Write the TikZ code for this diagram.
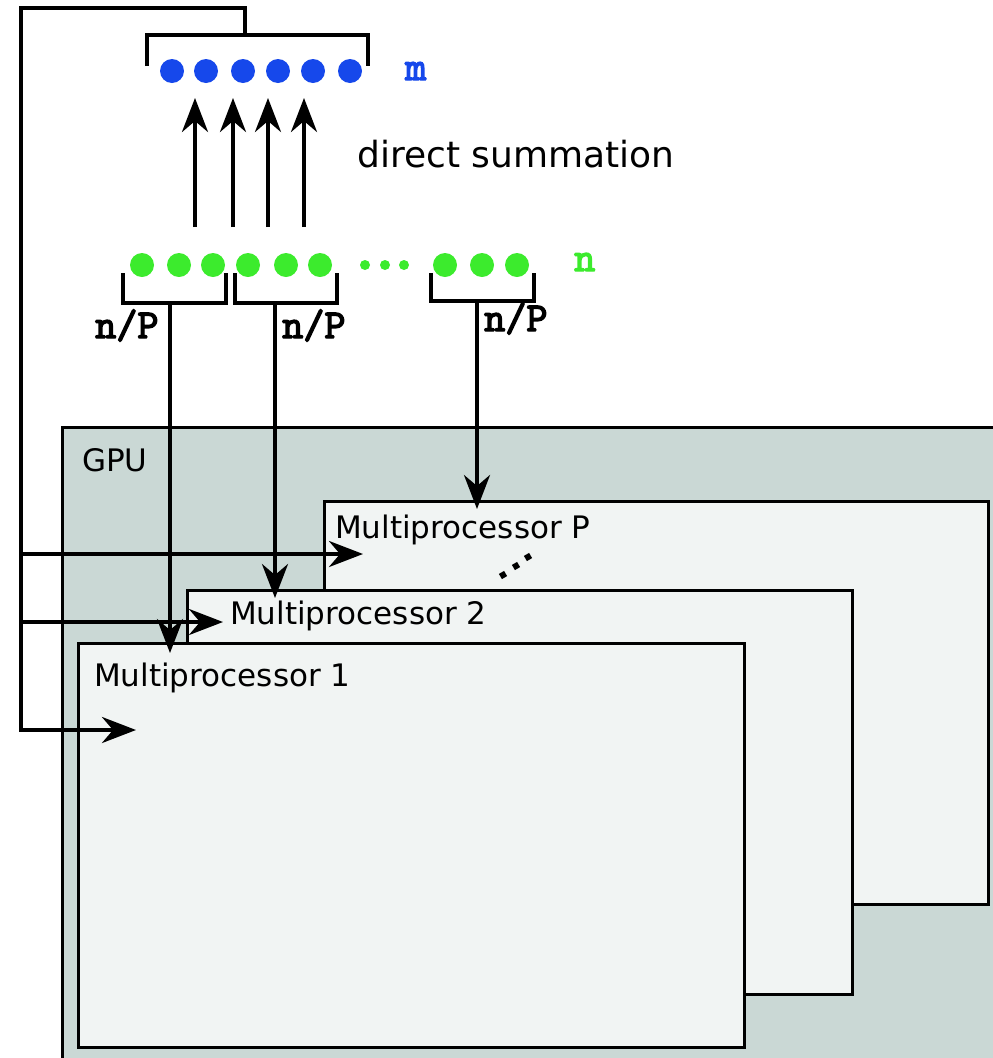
\documentclass[tikz,border=0pt]{standalone}
\usepackage{fontspec}
\setmainfont{DejaVu Sans}
\newfontfamily\monob[FakeBold=3.5]{Latin Modern Mono}
\usetikzlibrary{arrows.meta}
\definecolor{gpufill}{RGB}{202,216,213}
\definecolor{mpfill}{RGB}{241,244,243}
\definecolor{dotblue}{RGB}{22,72,235}
\definecolor{dotgreen}{RGB}{60,235,45}
\begin{document}
\begin{tikzpicture}[x=1pt,y=-1pt,
 wire/.style={line width=4pt, line join=miter},
 arr/.style={wire,-{Stealth[length=34pt,width=26pt,inset=11pt]}},
 box/.style={draw=black, line width=2.5pt, fill=mpfill, rectangle, inner sep=0pt, anchor=north west},
 bdot/.style={circle, fill=dotblue, minimum size=24pt, inner sep=0pt},
 gdot/.style={circle, fill=dotgreen, minimum size=24pt, inner sep=0pt},
 sdot/.style={circle, fill=dotgreen, minimum size=10pt, inner sep=0pt},
 tdot/.style={rectangle, fill=black, minimum size=6pt, inner sep=0pt, rotate=30},
 lbl/.style={anchor=base west, inner sep=0pt, font=\fontsize{31}{37}\selectfont},
 mono/.style={anchor=base west, inner sep=0pt, font=\monob\fontsize{41}{44}\selectfont},
]
\useasboundingbox (0,0) rectangle (993,1058);
\clip (0,0) rectangle (993,1058);
% GPU and multiprocessors
\node[box, fill=gpufill, minimum width=960pt, minimum height=660pt] (gpu) at (61,426) {};
\node[lbl] (gpulbl) at (82,471) {GPU};
\node[box, minimum width=664pt, minimum height=403pt] (mpP) at (323,500) {};
\node[box, minimum width=665pt, minimum height=404pt] (mp2) at (186,589) {};
\node[box, minimum width=666pt, minimum height=404pt] (mp1) at (77,642) {};
\node[lbl] (lP) at (335,538) {Multiprocessor P};
\node[lbl] (l2) at (230,624) {Multiprocessor 2};
\node[lbl] (l1) at (94,686) {Multiprocessor 1};
\node[tdot] (d1) at (503,575) {};
\node[tdot] (d2) at (516,566) {};
\node[tdot] (d3) at (528,557) {};
% blue dots (m)
\foreach \x [count=\i] in {172,206,243,278,313,350} {\node[bdot] (b\i) at (\x,71) {};}
\node[mono, text=dotblue] (mlbl) at (405,80) {m};
\draw[wire] (147,66) -- (147,35) -- (368,35) -- (368,66);
\coordinate (btop) at (245,35);
% green dots (n)
\foreach \x [count=\i] in {142,179,213,248,286,320,445,482,517} {\node[gdot] (g\i) at (\x,265) {};}
\foreach \x [count=\i] in {365,385,404} {\node[sdot] (s\i) at (\x,265) {};}
\node[mono, text=dotgreen] (nlbl) at (574,271) {n};
% direct summation arrows
\foreach \x [count=\i] in {195,233,268,304} {
  \coordinate (u\i) at (\x,227);
  \coordinate (v\i) at (\x,98);
  \draw[arr] (u\i) -- (v\i);
}
\node[anchor=base west, inner sep=0pt, font=\fontsize{36}{40}\selectfont] (ds) at (357,167) {direct summation};
% brackets below green dots
\draw[wire] (123,273) -- (123,303) -- (226,303) -- (226,273);
\draw[wire] (235,273) -- (235,303) -- (337,303) -- (337,273);
\draw[wire] (431,273) -- (431,301) -- (534,301) -- (534,273);
\node[mono] (np1) at (95,338) {n/P};
\node[mono] (np2) at (282,338) {n/P};
\node[mono] (np3) at (484,331) {n/P};
\coordinate (k1) at (170,303);
\coordinate (k2) at (275,303);
\coordinate (k3) at (477,301);
\coordinate (t1) at (170,653);
\coordinate (t2) at (275,598);
\coordinate (t3) at (477,509);
\draw[arr] (k1) -- (t1);
\draw[arr] (k2) -- (t2);
\draw[arr] (k3) -- (t3);
% feedback wire
\coordinate (c1) at (21,8);
\coordinate (jP) at (21,554);
\coordinate (j2) at (21,622);
\coordinate (i1) at (136,730);
\coordinate (i2) at (223,622);
\coordinate (iP) at (363,554);
\draw[arr] (btop) |- (c1) -- (21,730) -- (i1);
\draw[arr] (jP) -- (iP);
\draw[arr] (j2) -- (i2);
\end{tikzpicture}
\end{document}
